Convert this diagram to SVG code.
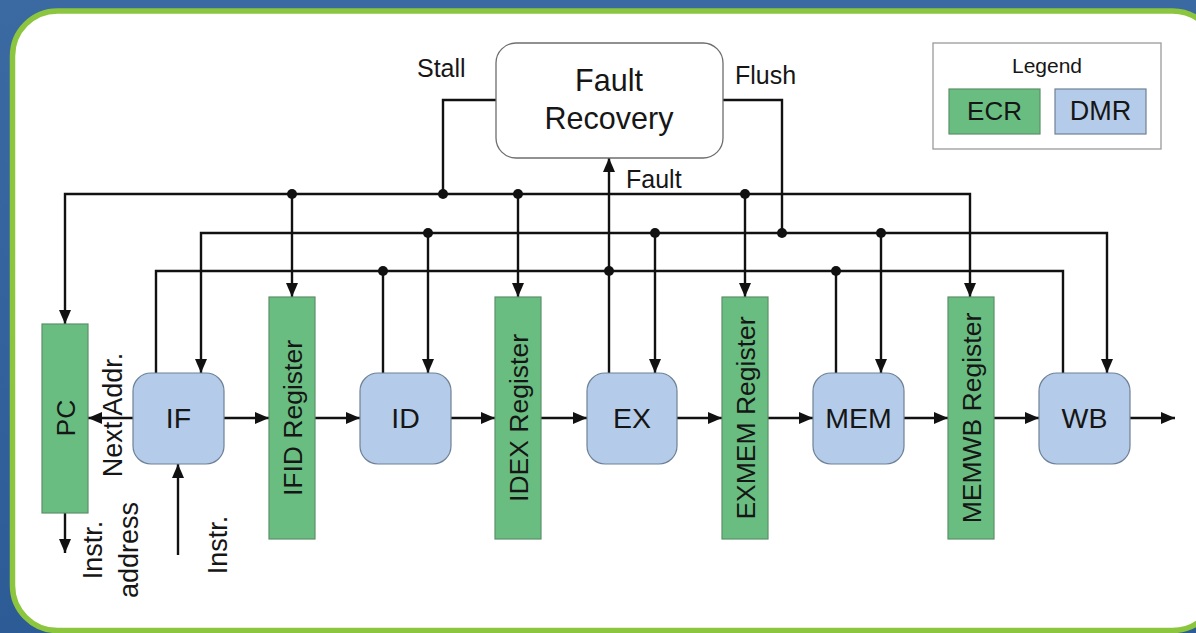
<svg xmlns="http://www.w3.org/2000/svg" width="1196" height="633" viewBox="0 0 1196 633">
  <defs>
    <linearGradient id="bg" x1="0" y1="0" x2="0" y2="1">
      <stop offset="0" stop-color="#3b69a2"/>
      <stop offset="1" stop-color="#2d5b96"/>
    </linearGradient>
    <marker id="arrow" markerUnits="userSpaceOnUse" markerWidth="14" markerHeight="12" refX="14" refY="6" orient="auto">
      <path d="M0,0 L14,6 L0,12 z" fill="#111"/>
    </marker>
    <style>
      .wire { fill: none; stroke: #111; stroke-width: 2.4; }
      .arr { marker-end: url(#arrow); }
      .dot { fill: #111; }
      .ecr { fill: #69bd80; stroke: #5a8f68; stroke-width: 1.2; }
      .dmr { fill: #b4cce9; stroke: #6f8197; stroke-width: 1.2; }
      .lbl { font-family: "Liberation Sans", Arial, sans-serif; fill: #161616; }
      .stage { font-size: 28.5px; text-anchor: middle; }
      .reg { font-size: 26.5px; text-anchor: middle; }
      .side { font-size: 27px; text-anchor: middle; }
      .sig { font-size: 25px; }
    </style>
  </defs>

  <!-- slide background and panel -->
  <rect x="0" y="0" width="1196" height="633" fill="url(#bg)"/>
  <rect x="12.5" y="11" width="1205" height="619.5" rx="45" fill="#ffffff" stroke="#8cc63e" stroke-width="5.5"/>

  <!-- connectors -->
  <g id="connectors">
    <!-- register control bus -->
    <path class="wire arr" d="M443,194 H65 V324"/>
    <path class="wire arr" d="M443,194 H970 V297"/>
    <path class="wire arr" d="M292,194 V297"/>
    <path class="wire arr" d="M518,194 V297"/>
    <path class="wire arr" d="M745,194 V297"/>
    <!-- stage control bus -->
    <path class="wire arr" d="M655,233 H201 V373"/>
    <path class="wire arr" d="M655,233 H1107 V373"/>
    <path class="wire arr" d="M428,233 V373"/>
    <path class="wire arr" d="M655,233 V373"/>
    <path class="wire arr" d="M881,233 V373"/>
    <!-- fault collection bus -->
    <path class="wire" d="M156,373 V271 H1063 V373"/>
    <path class="wire" d="M383,373 V271"/>
    <path class="wire" d="M836,373 V271"/>
    <path class="wire arr" d="M609,373 V158"/>
    <!-- stall / flush -->
    <path class="wire" d="M443,194 V100 H496"/>
    <path class="wire" d="M723,100 H782 V233"/>
    <!-- pipeline datapath -->
    <path class="wire arr" d="M133,418 H88"/>
    <path class="wire arr" d="M224,418 H269"/>
    <path class="wire arr" d="M315,418 H360"/>
    <path class="wire arr" d="M451,418 H495"/>
    <path class="wire arr" d="M541,418 H587"/>
    <path class="wire arr" d="M677,418 H722"/>
    <path class="wire arr" d="M768,418 H813"/>
    <path class="wire arr" d="M904,418 H948"/>
    <path class="wire arr" d="M994,418 H1039"/>
    <path class="wire arr" d="M1130,418 H1175"/>
    <path class="wire arr" d="M65,513 V553"/>
    <path class="wire arr" d="M178,555 V464"/>
    <!-- junctions -->
    <circle class="dot" cx="292" cy="194" r="5"/>
    <circle class="dot" cx="443" cy="194" r="5"/>
    <circle class="dot" cx="518" cy="194" r="5"/>
    <circle class="dot" cx="745" cy="194" r="5"/>
    <circle class="dot" cx="428" cy="233" r="5"/>
    <circle class="dot" cx="655" cy="233" r="5"/>
    <circle class="dot" cx="782" cy="233" r="5"/>
    <circle class="dot" cx="881" cy="233" r="5"/>
    <circle class="dot" cx="383" cy="271" r="5"/>
    <circle class="dot" cx="609" cy="271" r="5"/>
    <circle class="dot" cx="836" cy="271" r="5"/>
  </g>

  <!-- signal labels -->
  <g id="signal-labels" class="lbl">
    <text class="sig" x="417" y="77">Stall</text>
    <text class="sig" x="735" y="84">Flush</text>
    <text class="sig" x="626" y="188">Fault</text>
    <text class="side" transform="translate(122,415) rotate(-90)">Next Addr.</text>
    <text class="side" transform="translate(102,550) rotate(-90)">Instr.</text>
    <text class="side" transform="translate(138,550) rotate(-90)">address</text>
    <text class="side" transform="translate(227,545) rotate(-90)">Instr.</text>
  </g>

  <!-- fault recovery unit -->
  <g id="fault-recovery">
    <rect x="496" y="43" width="227" height="115" rx="20" fill="#ffffff" stroke="#6d6d6d" stroke-width="1.3"/>
    <text class="lbl" x="609" y="91" text-anchor="middle" font-size="30.5">Fault</text>
    <text class="lbl" x="609" y="129" text-anchor="middle" font-size="30.5">Recovery</text>
  </g>

  <!-- registers (ECR) -->
  <g id="pc">
    <rect class="ecr" x="42" y="324" width="46" height="189"/>
    <text class="lbl reg" transform="translate(74.5,418) rotate(-90)">PC</text>
  </g>
  <g id="ifid">
    <rect class="ecr" x="269" y="297" width="46" height="242"/>
    <text class="lbl reg" transform="translate(301.5,418) rotate(-90)">IFID Register</text>
  </g>
  <g id="idex">
    <rect class="ecr" x="495" y="297" width="46" height="242"/>
    <text class="lbl reg" transform="translate(527.5,418) rotate(-90)">IDEX Register</text>
  </g>
  <g id="exmem">
    <rect class="ecr" x="722" y="297" width="46" height="242"/>
    <text class="lbl reg" transform="translate(754.5,418) rotate(-90)">EXMEM Register</text>
  </g>
  <g id="memwb">
    <rect class="ecr" x="948" y="297" width="46" height="242"/>
    <text class="lbl reg" transform="translate(980.5,418) rotate(-90)">MEMWB Register</text>
  </g>

  <!-- pipeline stages (DMR) -->
  <g id="if">
    <rect class="dmr" x="133" y="373" width="91" height="91" rx="18"/>
    <text class="lbl stage" x="178.5" y="428">IF</text>
  </g>
  <g id="id">
    <rect class="dmr" x="360" y="373" width="91" height="91" rx="18"/>
    <text class="lbl stage" x="405.5" y="428">ID</text>
  </g>
  <g id="ex">
    <rect class="dmr" x="587" y="373" width="90" height="91" rx="18"/>
    <text class="lbl stage" x="632" y="428">EX</text>
  </g>
  <g id="mem">
    <rect class="dmr" x="813" y="373" width="91" height="91" rx="18"/>
    <text class="lbl stage" x="858.5" y="428">MEM</text>
  </g>
  <g id="wb">
    <rect class="dmr" x="1039" y="373" width="91" height="91" rx="18"/>
    <text class="lbl stage" x="1084.5" y="428">WB</text>
  </g>

  <!-- legend -->
  <g id="legend">
    <rect x="933" y="43" width="228" height="106" fill="#ffffff" stroke="#9a9a9a" stroke-width="1.3"/>
    <text class="lbl" x="1047" y="73" text-anchor="middle" font-size="21">Legend</text>
    <rect class="ecr" x="949" y="89" width="91" height="45"/>
    <text class="lbl" x="994.5" y="120" text-anchor="middle" font-size="26">ECR</text>
    <rect class="dmr" x="1055" y="89" width="91" height="45"/>
    <text class="lbl" x="1100.5" y="120" text-anchor="middle" font-size="27">DMR</text>
  </g>
</svg>
